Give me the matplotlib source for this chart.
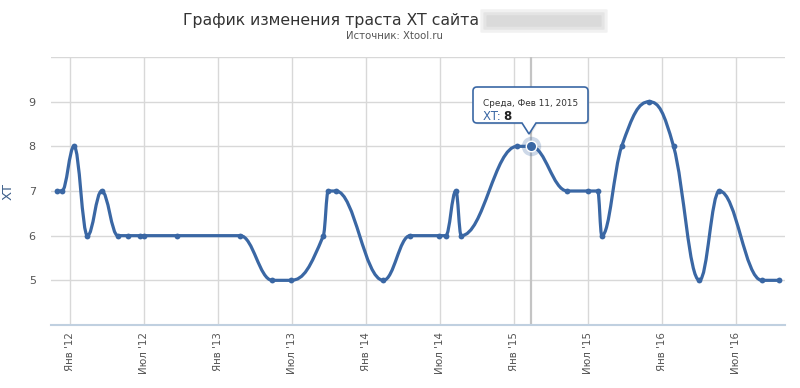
import datetime as dt
import matplotlib
matplotlib.use("Agg")
import matplotlib.pyplot as plt
import matplotlib.dates as mdates
from matplotlib.path import Path
from matplotlib.patches import PathPatch, FancyBboxPatch
import numpy as np

# ---------------- data ----------------
dates = ["2011-11-29", "2011-12-12", "2012-01-11", "2012-02-13", "2012-03-19",
         "2012-04-28", "2012-05-24", "2012-06-22", "2012-07-02", "2012-09-22",
         "2013-02-24", "2013-05-14", "2013-06-29", "2013-09-17", "2013-09-29",
         "2013-10-18", "2014-02-12", "2014-04-19", "2014-06-30", "2014-07-16",
         "2014-08-10", "2014-08-23", "2015-01-08", "2015-02-11", "2015-05-12",
         "2015-07-03", "2015-07-26", "2015-08-05", "2015-09-23", "2015-11-30",
         "2016-01-29", "2016-04-02", "2016-05-21", "2016-09-03", "2016-10-14"]
values = [7, 7, 8, 6, 7,
          6, 6, 6, 6, 6,
          6, 5, 5, 6, 7,
          7, 5, 6, 6, 6,
          7, 6, 8, 8, 7,
          7, 7, 6, 8, 9,
          8, 5, 7, 5, 5]
tick_dates = ["2012-01-01", "2012-07-01", "2013-01-01", "2013-07-01", "2014-01-01",
              "2014-07-01", "2015-01-01", "2015-07-01", "2016-01-01", "2016-07-01"]
tick_labels = ["Янв '12", "Июл '12", "Янв '13", "Июл '13", "Янв '14",
               "Июл '14", "Янв '15", "Июл '15", "Янв '16", "Июл '16"]
y_ticks = [4, 5, 6, 7, 8, 9, 10]
y_labels = ["", "5", "6", "7", "8", "9", ""]
highlight_date = "2015-02-11"
highlight_value = 8
tooltip_date_text = "Среда, Фев 11, 2015"
title_text = "График изменения траста XT сайта"
subtitle_text = "Источник: Xtool.ru"
series_name = "XT"

BLUE = "#3a67a4"

def d2n(s):
    return mdates.date2num(dt.datetime.strptime(s, "%Y-%m-%d"))

xs = np.array([d2n(d) for d in dates])
ys = np.array(values, dtype=float)


def spline_path(xs, ys, smoothing=1.5):
    n = len(xs)
    left = [None] * n
    right = [None] * n
    for i in range(n):
        px, py = xs[i], ys[i]
        if 0 < i < n - 1:
            lx, ly = xs[i - 1], ys[i - 1]
            nx, ny = xs[i + 1], ys[i + 1]
            den = smoothing + 1
            lcx = (smoothing * px + lx) / den
            lcy = (smoothing * py + ly) / den
            rcx = (smoothing * px + nx) / den
            rcy = (smoothing * py + ny) / den
            corr = 0.0
            if rcx != lcx:
                corr = ((rcy - lcy) * (rcx - px)) / (rcx - lcx) + py - rcy
            lcy += corr
            rcy += corr
            if lcy > ly and lcy > py:
                lcy = max(ly, py); rcy = 2 * py - lcy
            elif lcy < ly and lcy < py:
                lcy = min(ly, py); rcy = 2 * py - lcy
            if rcy > ny and rcy > py:
                rcy = max(ny, py); lcy = 2 * py - rcy
            elif rcy < ny and rcy < py:
                rcy = min(ny, py); lcy = 2 * py - rcy
            left[i] = (lcx, lcy)
            right[i] = (rcx, rcy)
        else:
            left[i] = (px, py)
            right[i] = (px, py)
    verts = [(xs[0], ys[0])]
    codes = [Path.MOVETO]
    for i in range(1, n):
        verts += [right[i - 1], left[i], (xs[i], ys[i])]
        codes += [Path.CURVE4] * 3
    return Path(verts, codes)


W, H = 800, 388
fig = plt.figure(figsize=(W / 100, H / 100), dpi=100)
ax = fig.add_axes([51 / W, (H - 325) / H, 734 / W, 268 / H])

ax.set_xlim(d2n("2011-11-15"), d2n("2016-10-30"))
ax.set_ylim(4, 10)

# grid
ax.set_yticks(y_ticks)
ax.set_yticklabels(y_labels)
ax.set_xticks([d2n(d) for d in tick_dates])
ax.set_xticklabels(tick_labels, rotation=90, va="top", ha="center")
ax.grid(True, color="#d8d8d8", lw=1.0, zorder=0)
ax.set_axisbelow(True)
for s in ["top", "right", "left"]:
    ax.spines[s].set_visible(False)
ax.spines["bottom"].set_color("#c0d0e0")
ax.spines["bottom"].set_linewidth(1.5)
ax.tick_params(axis="y", length=0, pad=11, labelsize=8, labelcolor="#555555")
ax.tick_params(axis="x", length=0, pad=5, labelsize=7.4, labelcolor="#555555")

ax.set_ylabel(series_name, color="#3e5f8a", fontsize=9.5)
ax.yaxis.set_label_coords(-36 / 734, 0.5)

# crosshair
hx = d2n(highlight_date)
ax.axvline(hx, color="#c4c4c4", lw=1.6, zorder=1)

# series
ax.add_patch(PathPatch(spline_path(xs, ys), facecolor="none", edgecolor=BLUE,
                       lw=2.3, capstyle="round", joinstyle="round", zorder=3))
ax.plot(xs, ys, "o", color=BLUE, ms=4.2, mec="none", zorder=4)

# highlighted point with halo
ax.plot([hx], [highlight_value], "o", color=BLUE, ms=14, alpha=0.25, mec="none", zorder=4)
ax.plot([hx], [highlight_value], "o", color=BLUE, ms=7.5, mec="white", mew=1, zorder=5)

# ---------------- tooltip (pixel coordinates -> figure fraction) ----------------
def P(x, y):
    return (x / W, 1 - y / H)

bx0, bx1, by0, by1, r = 473, 588, 87, 123, 4
tipx, tipy, hw = 529, 134, 7
pts = [
    (bx0 + r, by0), (bx1 - r, by0), (bx1, by0), (bx1, by0 + r),
    (bx1, by1 - r), (bx1, by1), (bx1 - r, by1),
    (tipx + hw, by1), (tipx, tipy), (tipx - hw, by1),
    (bx0 + r, by1), (bx0, by1), (bx0, by1 - r),
    (bx0, by0 + r), (bx0, by0), (bx0 + r, by0),
]
codes = [Path.MOVETO, Path.LINETO, Path.CURVE3, Path.CURVE3,
         Path.LINETO, Path.CURVE3, Path.CURVE3,
         Path.LINETO, Path.LINETO, Path.LINETO,
         Path.LINETO, Path.CURVE3, Path.CURVE3,
         Path.LINETO, Path.CURVE3, Path.CURVE3]
shadow = Path([P(x + 1.5, y + 1.5) for x, y in pts], codes)
fig.patches.append(PathPatch(shadow, transform=fig.transFigure, facecolor="#000000",
                             alpha=0.08, edgecolor="none", zorder=8))
tip = Path([P(x, y) for x, y in pts], codes)
fig.patches.append(PathPatch(tip, transform=fig.transFigure, facecolor="white",
                             edgecolor=BLUE, lw=1.2, zorder=9))
fig.text(*P(483, 103), tooltip_date_text, fontsize=6.4, color="#333333",
         va="center", ha="left", zorder=10)
fig.text(*P(483, 117), series_name + ": ", fontsize=8.5, color=BLUE,
         va="center", ha="left", zorder=10)
fig.text(*P(503, 117), str(highlight_value), fontsize=8.5, color="#222222",
         fontweight="bold", va="center", ha="left", zorder=10)

# ---------------- titles ----------------
fig.text(*P(183, 21), title_text, fontsize=11.3, color="#333333", va="center", ha="left")
# blurred domain placeholder
for k, a in enumerate([0.25, 0.3, 0.35]):
    fig.patches.append(FancyBboxPatch(P(482 + 3 * k, 32 - 3 * k), (124 - 6 * k) / W, (22 - 6 * k) / H,
                                      boxstyle="round,pad=0.002", transform=fig.transFigure,
                                      facecolor="#c8c8c8", edgecolor="none", alpha=a))
fig.text(*P(394, 36), subtitle_text, fontsize=7.3, color="#555555", va="center", ha="center")

fig.savefig("out.png", dpi=100)
